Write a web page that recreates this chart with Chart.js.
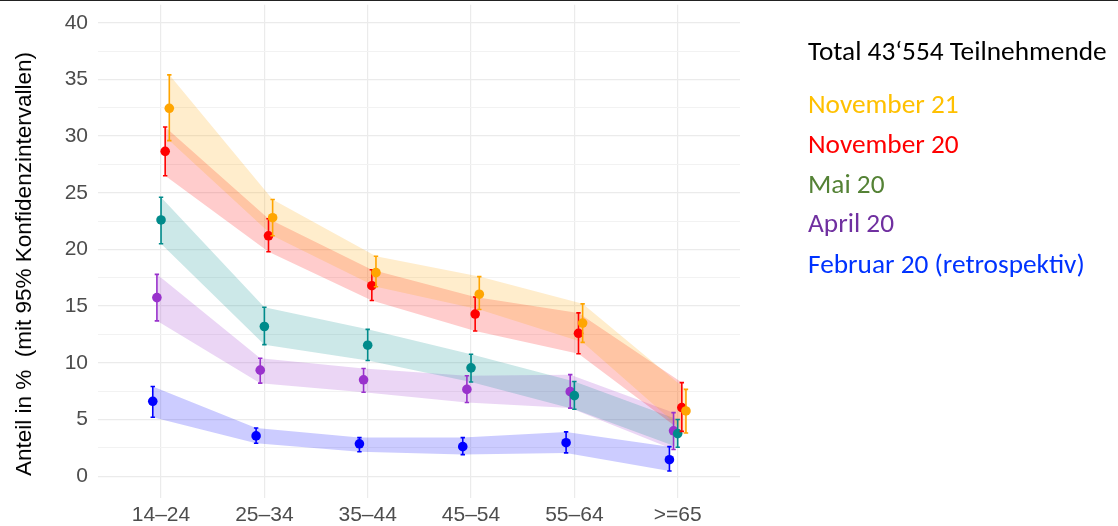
<!DOCTYPE html>
<html lang="de">
<head>
<meta charset="UTF-8">
<title>Anteil nach Altersgruppe</title>
<script src="https://cdn.jsdelivr.net/npm/chart.js"></script>
<style>
  body { margin: 0; background: #fff; }
  #wrap { position: relative; width: 1118px; height: 526px; overflow: hidden; }
  #topline { position: absolute; left: 0; top: 0; width: 1118px; height: 1px; background: #222; }
  #ytitle {
    position: absolute; left: 24px; top: 264px;
    transform: translate(-50%, -50%) rotate(-90deg);
    white-space: pre; font: 22.5px "Liberation Sans", Arial, sans-serif; color: #000;
  }
  #legend { position: absolute; left: 808px; top: 0; font-family: Carlito, Lato, "Open Sans", sans-serif; font-size: 27.3px; }
  #legend div { position: absolute; left: 0; white-space: nowrap; transform: translateY(-50%); }
</style>
</head>
<body>
<div id="wrap">
  <canvas id="chart" width="1118" height="526"></canvas>
  <div id="topline"></div>
  <div id="ytitle">Anteil in %  (mit 95% Konfidenzintervallen)</div>
  <div id="legend">
    <div style="top:50px;color:#000">Total 43‘554 Teilnehmende</div>
    <div style="top:103px;color:#FFC000">November 21</div>
    <div style="top:143px;color:#FF0000">November 20</div>
    <div style="top:183px;color:#548235">Mai 20</div>
    <div style="top:222px;color:#7030A0">April 20</div>
    <div style="top:263px;color:#0033FF">Februar 20 (retrospektiv)</div>
  </div>
</div>

<script>
// age groups on the x axis
const ageGroups = ['14–24', '25–34', '35–44', '45–54', '55–64', '>=65'];

// share in %, with lower / upper 95% CI
const feb20Est = [6.6, 3.55, 2.85, 2.6, 2.95, 1.45];
const feb20Lo  = [5.2, 2.9, 2.15, 1.9, 2.05, 0.45];
const feb20Hi  = [7.9, 4.25, 3.4, 3.4, 3.9, 2.6];

const apr20Est = [15.75, 9.35, 8.5, 7.65, 7.45, 4.0];
const apr20Lo  = [13.7, 8.2, 7.4, 6.5, 6.0, 2.35];
const apr20Hi  = [17.8, 10.4, 9.5, 8.85, 8.95, 5.6];

const mai20Est = [22.6, 13.2, 11.55, 9.55, 7.1, 3.75];
const mai20Lo  = [20.5, 11.6, 10.2, 8.3, 5.9, 2.55];
const mai20Hi  = [24.6, 14.9, 12.95, 10.75, 8.35, 5.0];

const nov20Est = [28.65, 21.2, 16.8, 14.3, 12.6, 6.05];
const nov20Lo  = [26.5, 19.8, 15.5, 12.8, 10.8, 3.95];
const nov20Hi  = [30.8, 22.7, 18.2, 15.8, 14.4, 8.25];

const nov21Est = [32.45, 22.8, 17.95, 16.05, 13.5, 5.75];
const nov21Lo  = [29.6, 21.2, 16.7, 14.7, 11.8, 3.8];
const nov21Hi  = [35.4, 24.4, 19.4, 17.6, 15.2, 7.65];

const yTicks = [0, 5, 10, 15, 20, 25, 30, 35, 40];

// series in drawing order, dodge offset per series (x units)
const series = [
  { est: feb20Est, lo: feb20Lo, hi: feb20Hi, color: '#0000FF', fill: 'rgba(0,0,255,0.2)', dodge: -0.08 },
  { est: apr20Est, lo: apr20Lo, hi: apr20Hi, color: '#9932CC', fill: 'rgba(153,50,204,0.2)', dodge: -0.04 },
  { est: mai20Est, lo: mai20Lo, hi: mai20Hi, color: '#008B8B', fill: 'rgba(0,139,139,0.2)', dodge: 0 },
  { est: nov20Est, lo: nov20Lo, hi: nov20Hi, color: '#FF0000', fill: 'rgba(255,0,0,0.2)', dodge: 0.04 },
  { est: nov21Est, lo: nov21Lo, hi: nov21Hi, color: '#FFA500', fill: 'rgba(255,165,0,0.2)', dodge: 0.08 }
];

const pts = (arr, d) => arr.map((v, i) => ({ x: i + 1 + d, y: v }));

const datasets = [];
series.forEach((s, k) => {
  // ribbon: upper filled down to lower
  datasets.push({ data: pts(s.hi, s.dodge), borderWidth: 0, pointRadius: 0,
    backgroundColor: s.fill, fill: '+1', order: 20 - k, tension: 0 });
  datasets.push({ data: pts(s.lo, s.dodge), borderWidth: 0, pointRadius: 0,
    fill: false, order: 20 - k, tension: 0 });
});
series.forEach((s, k) => {
  datasets.push({ data: pts(s.est, s.dodge), showLine: false, pointRadius: 4.8,
    pointBackgroundColor: s.color, pointBorderWidth: 0, order: 5 - k,
    errLo: s.lo, errHi: s.hi, errColor: s.color });
});

// error bars drawn right before their points
const errorBars = {
  id: 'errorBars',
  beforeDatasetDraw(chart, args) {
    const ds = chart.data.datasets[args.index];
    if (!ds.errLo) return;
    const c = chart.ctx, xs = chart.scales.x, ys = chart.scales.y;
    c.save();
    c.strokeStyle = ds.errColor;
    c.lineWidth = 1.6;
    ds.data.forEach((p, i) => {
      const x = xs.getPixelForValue(p.x);
      const y1 = ys.getPixelForValue(ds.errLo[i]);
      const y2 = ys.getPixelForValue(ds.errHi[i]);
      c.beginPath();
      c.moveTo(x, y1); c.lineTo(x, y2);
      c.moveTo(x - 2.2, y1); c.lineTo(x + 2.2, y1);
      c.moveTo(x - 2.2, y2); c.lineTo(x + 2.2, y2);
      c.stroke();
    });
    c.restore();
  }
};

new Chart(document.getElementById('chart'), {
  type: 'line',
  data: { datasets },
  plugins: [errorBars],
  options: {
    responsive: false,
    animation: false,
    layout: { padding: { left: 0, right: 378, top: 0, bottom: 0 } },
    plugins: { legend: { display: false }, tooltip: { enabled: false } },
    scales: {
      x: {
        type: 'linear', min: 0.39, max: 6.603,
        afterBuildTicks: sc => { sc.ticks = ageGroups.map((g, i) => ({ value: i + 1 })); },
        afterFit: sc => { sc.height = 28; sc.paddingLeft = 0; sc.paddingRight = 0; },
        ticks: { callback: v => ageGroups[Math.round(v) - 1], color: '#4d4d4d', padding: 5,
          maxRotation: 0, autoSkip: false, font: { family: 'Liberation Sans', size: 21 } },
        grid: { color: '#ebebeb', lineWidth: 1.2, drawTicks: false },
        border: { display: false }
      },
      y: {
        min: -1.93, max: 41.58,
        afterBuildTicks: sc => {
          const t = [];
          for (let v = 0; v <= 40; v += 2.5) t.push({ value: v });
          sc.ticks = t;
        },
        afterFit: sc => { sc.width = 98; sc.paddingTop = 0; sc.paddingBottom = 0; },
        ticks: { callback: v => (yTicks.includes(v) ? String(v) : ''), color: '#4d4d4d', padding: 10,
          autoSkip: false, font: { family: 'Liberation Sans', size: 21 } },
        grid: {
          color: ctx => (ctx.tick && ctx.tick.value % 5 === 0 ? '#ebebeb' : '#f2f2f2'),
          lineWidth: ctx => (ctx.tick && ctx.tick.value % 5 === 0 ? 1.2 : 1),
          drawTicks: false
        },
        border: { display: false }
      }
    }
  }
});
</script>
</body>
</html>
